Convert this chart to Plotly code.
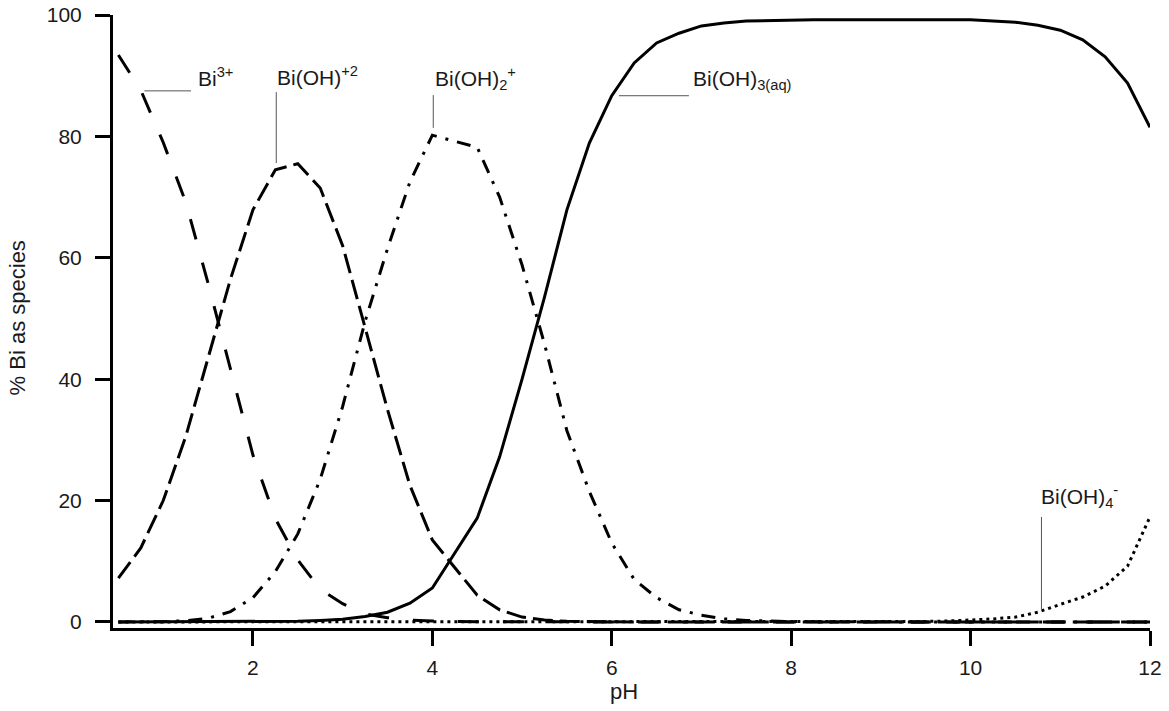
import plotly.graph_objects as go

# pH values of the sampled points
ph = [0.5, 0.75, 1.0, 1.25, 1.5, 1.75, 2.0, 2.25, 2.5, 2.75, 3.0, 3.25, 3.5, 3.75, 4.0,
      4.5, 4.75, 5.0, 5.25, 5.5, 5.75, 6.0, 6.25, 6.5, 6.75, 7.0, 7.25, 7.5, 7.75, 8.0,
      8.25, 8.5, 8.75, 9.0, 9.25, 9.5, 9.75, 10.0, 10.25, 10.5, 10.75, 11.0, 11.25, 11.5,
      11.75, 12.0]

# % Bi as each species
bi3 = [93.4, 87.6, 79.0, 69.2, 55.8, 41.5, 27.5, 17.0, 10.2, 5.4, 3.0, 1.3, 0.7, 0.3, 0.15,
       0.03, 0.01, 0, 0, 0, 0, 0, 0, 0, 0, 0, 0, 0, 0, 0,
       0, 0, 0, 0, 0, 0, 0, 0, 0, 0, 0, 0, 0, 0,
       0, 0]
bioh_2plus = [7.2, 12.2, 20.0, 30.5, 43.5, 56.5, 67.9, 74.5, 75.5, 71.5, 62.0, 48.5, 35.0, 22.5, 13.5,
              4.4, 2.0, 0.8, 0.3, 0.1, 0.04, 0, 0, 0, 0, 0, 0, 0, 0, 0,
              0, 0, 0, 0, 0, 0, 0, 0, 0, 0, 0, 0, 0, 0,
              0, 0]
bioh2_plus = [0, 0.02, 0.05, 0.2, 0.6, 1.7, 4.0, 8.3, 14.5, 23.5, 35.5, 49.5, 61.5, 72.5, 80.2,
              78.2, 70.0, 58.8, 45.8, 31.5, 21.5, 13.0, 7.0, 4.0, 2.0, 1.1, 0.5, 0.25, 0.12, 0.06,
              0.03, 0, 0, 0, 0, 0, 0, 0, 0, 0, 0, 0, 0, 0,
              0, 0]
bioh3_aq = [0, 0, 0, 0, 0, 0.01, 0.02, 0.05, 0.12, 0.25, 0.45, 0.9, 1.6, 3.1, 5.6,
            17.1, 27.2, 40.0, 53.5, 67.9, 78.9, 86.7, 92.1, 95.4, 97.0, 98.2, 98.7, 99.0, 99.1, 99.2,
            99.2, 99.2, 99.2, 99.2, 99.2, 99.2, 99.2, 99.2, 99.0, 98.8, 98.3, 97.5, 95.9, 93.1,
            88.8, 81.5]
bioh4_minus = [0, 0, 0, 0, 0, 0, 0, 0, 0, 0, 0, 0, 0, 0, 0,
               0, 0, 0, 0, 0, 0, 0, 0, 0, 0, 0, 0, 0, 0, 0,
               0, 0, 0, 0.02, 0.04, 0.08, 0.15, 0.3, 0.5, 0.8, 1.6, 2.9, 4.1, 5.9,
               9.2, 17.3]

x_ticks = [2, 4, 6, 8, 10, 12]
y_ticks = [0, 20, 40, 60, 80, 100]

FONT = "Liberation Sans, Arial, Helvetica, sans-serif"
TXT = "#1a1a1a"

fig = go.Figure()
series = [
    ("Bi3+", bi3, "21px,24px"),
    ("Bi(OH)+2", bioh_2plus, "20px,7px"),
    ("Bi(OH)2+", bioh2_plus, "14px,9px,3px,9px"),
    ("Bi(OH)3(aq)", bioh3_aq, "solid"),
    ("Bi(OH)4-", bioh4_minus, "3px,4px"),
]
for name, vals, dash in series:
    fig.add_trace(go.Scatter(x=ph, y=vals, mode="lines", name=name,
                             line=dict(color="black", width=3, dash=dash),
                             showlegend=False, hoverinfo="skip"))

# species labels and leader lines
labels = [
    ("Bi<sup>3+</sup>", 1.37, 89.8),
    ("Bi(OH)<sup>+2</sup>", 2.243, 89.9),
    ("Bi(OH)<sub>2</sub><sup>+</sup>", 4.01, 89.6),
    ("Bi(OH)<sub>3(aq)</sub>", 6.88, 89.3),
    ("Bi(OH)<sub>4</sub><sup>-</sup>", 10.76, 20.6),
]
for text, xl, yl in labels:
    fig.add_annotation(x=xl, y=yl, xref="x", yref="y", text=text, showarrow=False,
                       xanchor="left", yanchor="middle",
                       font=dict(family=FONT, size=21, color=TXT))

leaders = [
    (0.79, 87.5, 1.31, 87.5),
    (2.26, 87.3, 2.26, 75.6),
    (4.01, 86.8, 4.01, 81.4),
    (6.08, 86.7, 6.86, 86.7),
    (10.79, 17.3, 10.79, 2.1),
]
for x0, y0, x1, y1 in leaders:
    fig.add_shape(type="line", x0=x0, y0=y0, x1=x1, y1=y1, xref="x", yref="y",
                  line=dict(color="#555555", width=1))

# axis titles
fig.add_annotation(x=0.4928, y=-0.103, xref="paper", yref="paper", text="pH",
                   showarrow=False, xanchor="center", yanchor="middle",
                   font=dict(family=FONT, size=22, color=TXT))
fig.add_annotation(x=-0.092, y=0.506, xref="paper", yref="paper", text="% Bi as species",
                   showarrow=False, xanchor="center", yanchor="middle", textangle=-90,
                   font=dict(family=FONT, size=22, color=TXT))

axis_common = dict(showline=True, linecolor="black", linewidth=3, ticks="outside",
                   ticklen=15, tickwidth=3, tickcolor="black", showgrid=False,
                   zeroline=False, automargin=False,
                   tickfont=dict(family=FONT, size=21, color=TXT))
fig.update_xaxes(range=[0.44, 12], tickvals=x_ticks, ticktext=[str(v) for v in x_ticks],
                 ticklabelstandoff=4, **axis_common)
fig.update_yaxes(range=[-1, 100], tickvals=y_ticks, ticktext=[str(v) for v in y_ticks],
                 ticklabelstandoff=9, **axis_common)

fig.update_layout(width=1169, height=711, margin=dict(l=113, r=19, t=15, b=83),
                  paper_bgcolor="white", plot_bgcolor="white",
                  font=dict(family=FONT, color=TXT))

fig.write_html("out.html")
